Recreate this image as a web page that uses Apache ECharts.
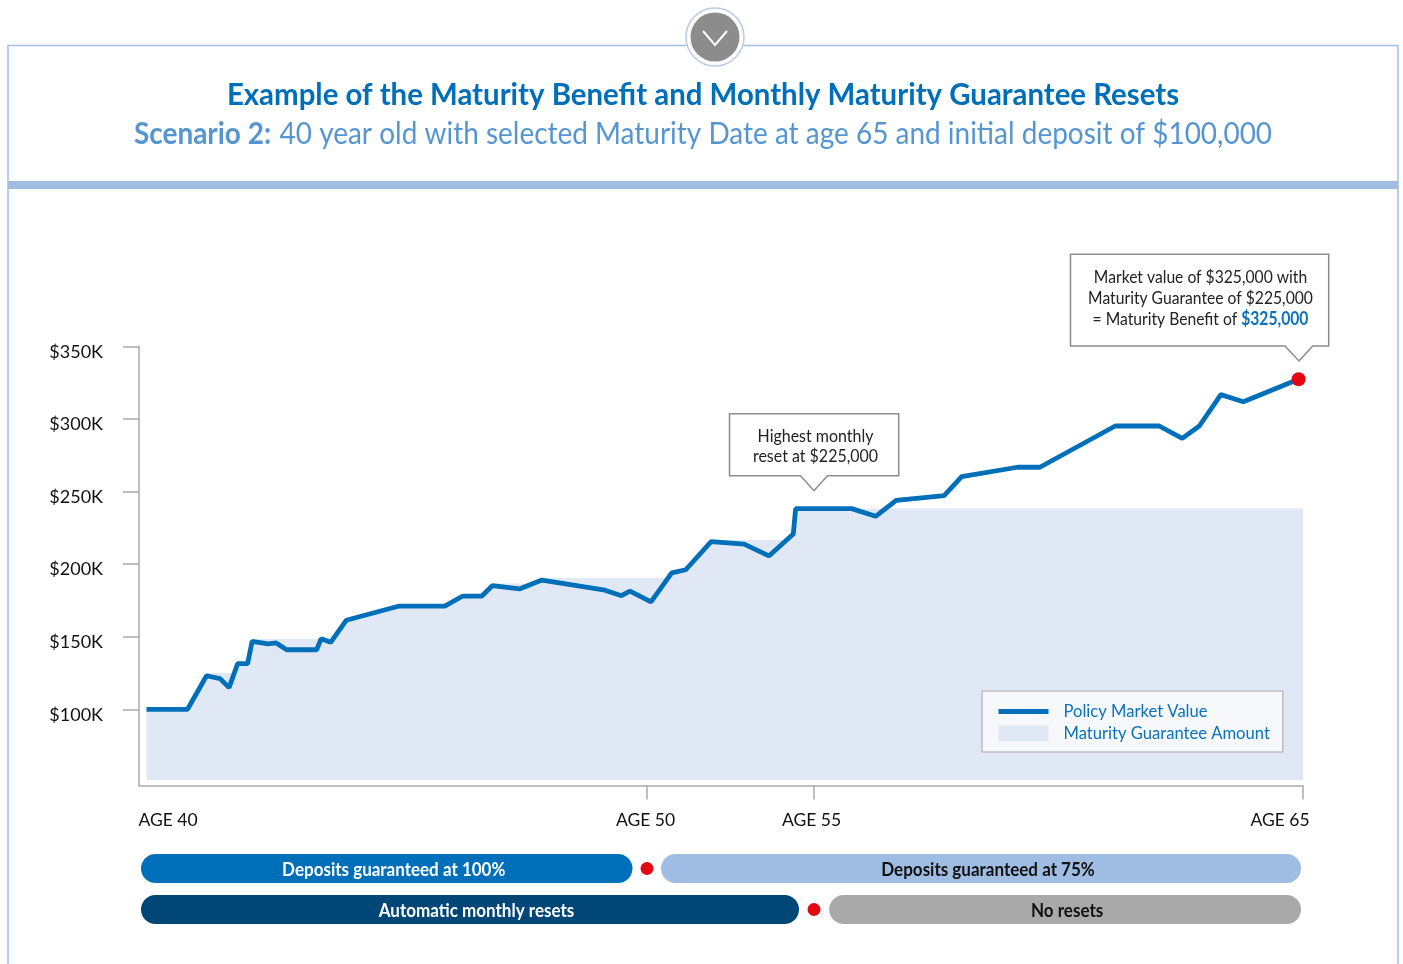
<!DOCTYPE html>
<html><head><meta charset="utf-8">
<style>html,body{margin:0;padding:0;background:#fff}#c{width:1403px;height:964px}</style>
<script src="https://cdn.jsdelivr.net/npm/echarts@6/dist/echarts.min.js"></script></head>
<body><div id="c"></div>
<script>
const marketAges = [40,40.82,41.20,41.47,41.65,41.82,42.02,42.11,42.43,42.59,42.80,43.40,43.49,43.68,43.99,45.05,45.96,46.32,46.70,46.91,47.45,47.90,49.16,49.49,49.66,50.12,50.74,51.16,51.92,52.91,53.65,54.38,54.45,55.77,56.26,56.68,57.66,58.02,59.16,59.62,61.16,62.06,62.53,62.88,63.32,63.78,64.91];
const marketValues = [100,100,123.1,121.1,114.9,131.4,131.4,146.8,145,145.7,141,141,148.6,146.1,161.3,171.1,171.1,178,178,185.1,182.9,189,182,178.2,181.3,173.9,193.9,196.1,215.4,213.8,205.6,220.7,238.2,238.2,232.9,243.9,247.1,260.2,266.7,266.7,295.1,295.1,286.6,295.1,316.7,311.8,327.3];
const guaranteeAges = [40,40.82,41.20,41.76,41.82,42.02,42.11,43.68,43.99,45.05,45.96,46.32,46.70,46.91,47.75,47.90,50.63,50.74,51.16,51.92,54.22,54.38,54.45,65];
const guaranteeValues = [100,100,125,125,131.4,131.4,148.4,148.4,161.3,171.1,171.1,178,178,186.6,186.6,190.4,190.4,193.9,196.1,216.6,216.6,220.7,238.2,238.2];
const yTicks = [100,150,200,250,300,350];
const xTickAges = [50,55,65];
const xLabelAges = [40,50,55,65];
const spanRows = ['Deposits','Resets'];
const spanStart = [39.89,50.42,39.89,55.31];
const spanEnd = [49.71,64.96,54.55,64.96];
const spanRow = [0,0,1,1];
const spanNames = ['Deposits guaranteed at 100%','Deposits guaranteed at 75%','Automatic monthly resets','No resets'];
const changeAges = [50,55];

const FONT = 'Lato,"Liberation Sans",sans-serif';
const spanFill = ['#006fba','#9fbce2','#004677','#a9a9a9'];
const spanText = ['#fff','#111','#fff','#111'];
const spanShift = [7,7,6.5,2];

// The reference's time axis is not to scale: each age span has its own width.
const ageStops = [40,50,55,65], axisStops = [0,10,13.337,23.107];
function axisPos(a){
  let i = a < 50 ? 0 : a < 55 ? 1 : 2;
  return axisStops[i] + (a-ageStops[i])*(axisStops[i+1]-axisStops[i])/(ageStops[i+1]-ageStops[i]);
}
const xMin = -0.15, xMax = axisStops[3];
const pairs = (xs,ys)=>xs.map((x,i)=>[axisPos(x),ys[i]]);
const labelStyle = {};
[[43,0],[0,3],[0,5],[0,46]].forEach((p,i)=>{labelStyle['a'+i]={fontFamily:FONT,fontSize:17.5,color:'#111',padding:[0,p[1],0,p[0]]};});

const chart = echarts.init(document.getElementById('c'),null,{renderer:'canvas'});
chart.setOption({
  animation:false,
  backgroundColor:'#fff',
  grid:[
    {left:139,right:100,top:346.3,bottom:178.5},
    {left:139,right:100,top:848,height:82}
  ],
  xAxis:[
    {type:'value',gridIndex:0,min:xMin,max:xMax,splitLine:{show:false},
     axisLine:{onZero:false,lineStyle:{color:'#aaa',width:1.5}},
     axisTick:{show:true,length:14,lineStyle:{color:'#aaa',width:1.5},customValues:xTickAges.map(axisPos)},
     axisLabel:{margin:25.5,hideOverlap:false,customValues:xLabelAges.map(axisPos),
       formatter:v=>{const k=xLabelAges.findIndex(a=>Math.abs(axisPos(a)-v)<1e-3);return '{a'+k+'|AGE '+xLabelAges[k]+'}';},
       rich:labelStyle}},
    {type:'value',gridIndex:1,min:xMin,max:xMax,show:false}
  ],
  yAxis:[
    {type:'value',gridIndex:0,min:47.5,max:350,splitLine:{show:false},
     axisLine:{show:true,onZero:false,lineStyle:{color:'#aaa',width:1.5}},
     axisTick:{show:true,length:16,lineStyle:{color:'#aaa',width:1.5},customValues:yTicks},
     axisLabel:{margin:36,customValues:yTicks,formatter:v=>'$'+v+'K',fontFamily:FONT,fontSize:18,color:'#111',verticalAlign:'top',lineHeight:11}},
    {type:'category',gridIndex:1,inverse:true,data:spanRows,show:false}
  ],
  legend:{
    orient:'vertical',left:982,top:691,padding:[12,13,10,14],itemWidth:50,itemHeight:16,itemGap:5,
    backgroundColor:'#f6f8fc',borderColor:'#bdbdbd',borderWidth:1.5,selectedMode:false,
    textStyle:{fontFamily:FONT,fontSize:16.6,lineHeight:16,color:'#0a72bb',padding:[0,0,0,10]},
    data:[{name:'Policy Market Value',itemStyle:{opacity:0},lineStyle:{width:5,color:'#006fba',cap:'butt'}},{name:'Maturity Guarantee Amount',icon:'rect'}]
  },
  series:[
    {name:'Maturity Guarantee Amount',type:'line',xAxisIndex:0,yAxisIndex:0,symbol:'none',
     data:pairs(guaranteeAges,guaranteeValues),lineStyle:{width:0},itemStyle:{color:'#e1e8f5'},
     areaStyle:{color:'#e1e8f5',opacity:1,origin:51.3},z:1},
    {name:'Policy Market Value',type:'line',xAxisIndex:0,yAxisIndex:0,symbol:'none',
     data:pairs(marketAges,marketValues),lineStyle:{color:'#006fba',width:4.8},itemStyle:{color:'#006fba'},z:3},
    {name:'End value',type:'scatter',xAxisIndex:0,yAxisIndex:0,symbolSize:14,
     data:[[axisPos(marketAges[marketAges.length-1]),marketValues[marketValues.length-1]]],itemStyle:{color:'#e30613',opacity:1},z:4},
    {name:'Spans',type:'custom',xAxisIndex:1,yAxisIndex:1,z:2,
     data:spanNames.map((n,i)=>[axisPos(spanStart[i]),axisPos(spanEnd[i]),spanRow[i]]),
     encode:{x:[0,1],y:2},
     renderItem:(p,api)=>{
       const i=p.dataIndex,a=api.coord([api.value(0),api.value(2)]),b=api.coord([api.value(1),api.value(2)]);
       return {type:'group',children:[
         {type:'rect',shape:{x:a[0],y:a[1]-14.5,width:b[0]-a[0],height:29,r:14.5},style:{fill:spanFill[i]}},
         {type:'text',x:(a[0]+b[0])/2+spanShift[i],y:a[1]+1.5,scaleX:0.945,style:{x:0,y:0,text:spanNames[i],fill:spanText[i],align:'center',verticalAlign:'middle',
           font:'bold 18px '+FONT}}
       ]};
     }},
    {name:'Changes',type:'scatter',xAxisIndex:1,yAxisIndex:1,symbolSize:13,
     data:changeAges.map((a,i)=>[axisPos(a),i]),itemStyle:{color:'#e30613',opacity:1},z:4}
  ],
  graphic:[
    {type:'polyline',z:0,shape:{points:[[8,964],[8,45.5],[1398,45.5],[1398,964]]},style:{stroke:'#a3bfe4',lineWidth:1.5,fill:null}},
    {type:'rect',z:0,shape:{x:8,y:181,width:1390,height:8},style:{fill:'#9fbce2'}},
    {type:'circle',z:5,shape:{cx:715,cy:37,r:29},style:{fill:'#fff',stroke:'#b5cbe9',lineWidth:1.5}},
    {type:'circle',z:6,shape:{cx:715,cy:37,r:24.5},style:{fill:'#8c8c8c'}},
    {type:'polyline',z:7,shape:{points:[[703,31],[715,45],[727,31]]},style:{stroke:'#fff',lineWidth:2,fill:null}},
    {type:'text',z:6,x:703,y:95.5,scaleX:0.9636,style:{x:0,y:0,text:'Example of the Maturity Benefit and Monthly Maturity Guarantee Resets',align:'center',verticalAlign:'middle',fill:'#006fba',font:'bold 30.5px '+FONT}},
    {type:'text',z:6,x:703,y:133.5,scaleX:0.902,style:{x:0,y:0,align:'center',verticalAlign:'middle',
      text:'{b|Scenario 2:} {n|40 year old with selected Maturity Date at age 65 and initial deposit of $100,000}',
      rich:{b:{fontFamily:FONT,fontWeight:'bold',fontSize:31,fill:'#5596d2',color:'#5596d2',padding:[0,6,0,0]},n:{fontFamily:FONT,fontSize:31,fill:'#5596d2',color:'#5596d2'}}}},
    {type:'polygon',z:5,shape:{points:[[729.5,413.7],[898.7,413.7],[898.7,475.7],[827.5,475.7],[814,490.7],[800.5,475.7],[729.5,475.7]]},style:{fill:'#fff',stroke:'#8c8c8c',lineWidth:1.5}},
    {type:'text',z:6,x:815.5,y:446.5,scaleX:0.887,style:{x:0,y:0,text:'Highest monthly\nreset at $225,000',fill:'#222',align:'center',verticalAlign:'middle',font:'18px '+FONT,lineHeight:20}},
    {type:'polygon',z:5,shape:{points:[[1070.5,254.3],[1328.7,254.3],[1328.7,346],[1312.7,346],[1299,361],[1285,346],[1070.5,346]]},style:{fill:'#fff',stroke:'#8c8c8c',lineWidth:1.5}},
    {type:'text',z:6,x:1200.5,y:298.5,scaleX:0.87,style:{x:0,y:0,align:'center',verticalAlign:'middle',
      text:'{t|Market value of $325,000 with}\n{t|Maturity Guarantee of $225,000}\n{t|= Maturity Benefit of }{v|$325,000}',
      rich:{t:{fontFamily:FONT,fontSize:18,lineHeight:21,fill:'#222',color:'#222'},v:{fontFamily:FONT,fontSize:18,lineHeight:21,fontWeight:'bold',fill:'#0a72bb',color:'#0a72bb'}}}}
  ]
});
</script></body></html>
